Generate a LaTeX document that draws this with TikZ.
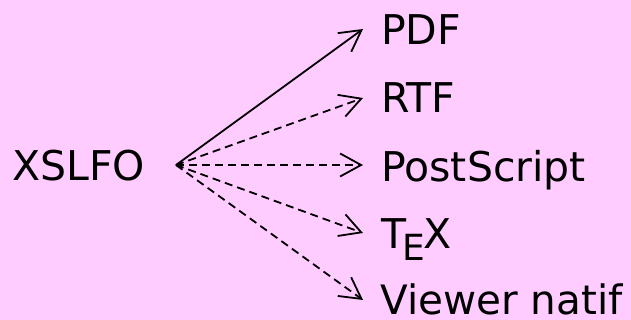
\documentclass[tikz,border=0pt]{standalone}
\usepackage{fontspec}
\setmainfont{DejaVu Sans}
\usetikzlibrary{arrows.meta}
\definecolor{bgpink}{RGB}{255,204,255}
\tikzset{
  lbl/.style={anchor=base west, inner sep=0pt, font=\fontsize{41}{41}\selectfont},
  conn/.style={line width=1.8pt, -{Straight Barb[length=21pt,width=23pt,line width=1.8pt]}},
  dashconn/.style={conn, dash pattern=on 8pt off 5pt}
}
\newcommand{\myTeX}{T\kern-.08em\lower.3em\hbox{\fontsize{36}{36}\selectfont E}\kern-.05em X}
\begin{document}
\begin{tikzpicture}[x=1pt,y=-1pt]
\fill[bgpink] (0,0) rectangle (631,320);
\useasboundingbox (0,0) rectangle (631,320);
\node[lbl] (src) at (12,181) {XSLFO};
\coordinate (o) at (176,165);
\node[lbl] (pdf) at (381,45) {PDF};
\node[lbl] (rtf) at (381,113) {RTF};
\node[lbl] (ps) at (381,182) {PostScript};
\node[lbl] (tex) at (381,248) {\myTeX};
\node[lbl,font=\fontsize{40.5}{41}\selectfont] (view) at (380,314) {Viewer natif};
\coordinate (tpdf) at (363,29);
\coordinate (trtf) at (363,98);
\coordinate (tps) at (363,165);
\coordinate (ttex) at (363,233);
\coordinate (tview) at (363,300);
\draw[conn] (o) -- (tpdf);
\draw[dashconn] (o) -- (trtf);
\draw[dashconn] (o) -- (tps);
\draw[dashconn] (o) -- (ttex);
\draw[dashconn] (o) -- (tview);
\end{tikzpicture}
\end{document}
